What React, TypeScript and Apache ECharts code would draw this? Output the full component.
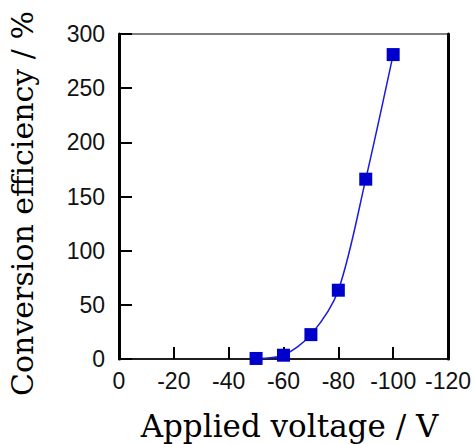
import React, { useEffect, useRef } from "react";
import * as echarts from "echarts";

const voltages = [-50, -60, -70, -80, -90, -100];
const efficiency = [0.5, 3.5, 22.5, 63.5, 166, 281];
const xTicks = { min: -120, max: 0, interval: 20 };
const yTicks = { min: 0, max: 300, interval: 50 };

const SERIF = "DejaVu Serif";

export default function App() {
  const ref = useRef<HTMLDivElement>(null);
  useEffect(() => {
    if (!ref.current) return;
    const chart = echarts.init(ref.current, null, { renderer: "svg" });
    const labelFont = { fontFamily: "Liberation Sans", fontSize: 23, color: "#111" };
    chart.setOption({
      animation: false,
      grid: {
        left: 119,
        right: 24,
        top: 34,
        bottom: 85,
        show: true,
        borderColor: "#000",
        borderWidth: 1.2,
        backgroundColor: "transparent",
        containLabel: false,
        outerBoundsMode: "none",
      },
      xAxis: {
        type: "value",
        min: xTicks.min,
        max: xTicks.max,
        interval: xTicks.interval,
        inverse: true,
        name: "Applied voltage / V",
        nameLocation: "middle",
        nameGap: 51,
        nameTextStyle: { fontFamily: SERIF, fontSize: 31, color: "#000", padding: [0, 0, 0, 12] },
        axisLine: { show: true, lineStyle: { color: "#000", width: 1.5 } },
        axisTick: { show: true, inside: true, length: 12, lineStyle: { color: "#000", width: 2 } },
        axisLabel: { ...labelFont, margin: 10, formatter: (v: number) => String(v) },
        splitLine: { show: false },
      },
      yAxis: [
        {
          type: "value",
          min: yTicks.min,
          max: yTicks.max,
          interval: yTicks.interval,
          name: "Conversion efficiency / %",
          nameLocation: "middle",
          nameGap: 82,
          nameTextStyle: { fontFamily: SERIF, fontSize: 30, color: "#000", padding: [0, 14, 0, 0] },
          axisLine: { show: true, lineStyle: { color: "#000", width: 3 } },
          axisTick: { show: true, inside: true, length: 13, lineStyle: { color: "#000", width: 2 } },
          axisLabel: { ...labelFont, margin: 14 },
          splitLine: { show: false },
        },
        {
          type: "value",
          min: yTicks.min,
          max: yTicks.max,
          interval: yTicks.interval,
          position: "right",
          axisLine: { show: true, lineStyle: { color: "#000", width: 3 } },
          axisTick: { show: false },
          axisLabel: { show: false },
          splitLine: { show: false },
        },
      ],
      series: [
        {
          type: "line",
          data: voltages.map((v, i) => [v, efficiency[i]]),
          smooth: 0.3,
          symbol: "rect",
          symbolSize: 13,
          itemStyle: { color: "#0000CC" },
          lineStyle: { color: "#1a1ae0", width: 1.5 },
        },
      ],
    });
    return () => chart.dispose();
  }, []);
  return <div ref={ref} style={{ width: 472, height: 444, position: "absolute", left: 0, top: 0 }} />;
}
